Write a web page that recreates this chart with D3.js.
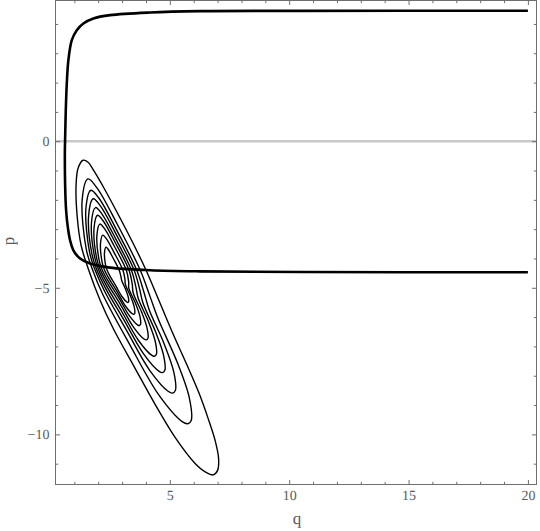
<!DOCTYPE html>
<html><head><meta charset="utf-8">
<script src="https://cdn.jsdelivr.net/npm/d3@7"></script>
<style>html,body{margin:0;padding:0;background:#fff;} svg{display:block;} text{-webkit-font-smoothing:antialiased;text-rendering:geometricPrecision;}</style>
</head><body><svg id="chart" width="540" height="531"></svg>
<script>
// ---- data ----
const qDomain = [0.21, 20.36];
const pDomain = [-11.71, 4.80];
const qMajor = [5, 10, 15, 20];
const qMinor = [1,2,3,4,6,7,8,9,11,12,13,14,16,17,18,19];
const pMajor = [-10, -5, 0];
const pMinor = [-11,-9,-8,-7,-6,-4,-3,-2,-1,1,2,3,4];
const zeroLine = [0];

const separatrixUpper = [[20,4.45],[10.455,4.446],[6.267,4.437],[4.173,4.392],[2.497,4.300],[1.797,4.188],[1.378,4.017],[1.102,3.788],[0.892,3.447],[0.750,2.765],[0.683,1.969],[0.641,1.058],[0.612,0.034]];
const separatrixLower = [[0.603,-0.30],[0.612,-1.444],[0.654,-2.355],[0.725,-2.925],[0.821,-3.379],[0.959,-3.720],[1.240,-4.003],[1.659,-4.174],[2.497,-4.311],[4.173,-4.400],[6.267,-4.440],[10.5,-4.462],[20,-4.472]];

const contour1 = [[1.366,-0.648],[1.156,-0.922],[1.072,-1.502],[1.114,-2.526],[1.282,-3.549],[1.575,-4.334],[2.078,-5.427],[2.623,-6.382],[3.544,-7.747],[4.382,-8.976],[5.220,-10.102],[6.058,-10.990],[6.519,-11.297],[6.812,-11.382],[7.000,-11.229],[7.042,-10.819],[6.896,-10.205],[6.602,-9.454],[6.225,-8.601],[5.723,-7.645],[5.178,-6.655],[4.592,-5.529],[4.005,-4.403],[3.460,-3.481],[2.832,-2.491],[2.245,-1.604],[1.827,-1.024],[1.575,-0.717]];
const contour2 = [[1.572,-1.287],[1.328,-1.995],[1.502,-3.695],[1.746,-4.347],[2.183,-5.212],[3.303,-6.912],[4.559,-8.678],[5.534,-9.574],[5.753,-9.638],[5.895,-9.523],[5.816,-8.755],[5.314,-7.552],[4.528,-6.093],[4.169,-5.293],[3.762,-4.403],[2.788,-2.817],[1.954,-1.598]];
const contour3 = [[1.697,-1.674],[1.484,-2.294],[1.636,-3.783],[1.849,-4.354],[2.246,-5.083],[3.158,-6.410],[4.163,-7.823],[4.943,-8.539],[5.119,-8.591],[5.232,-8.499],[5.169,-7.884],[4.767,-6.922],[4.138,-5.755],[3.915,-5.151],[3.615,-4.403],[2.762,-3.014],[2.032,-1.946]];
const contour4 = [[1.790,-1.963],[1.600,-2.517],[1.736,-3.849],[1.927,-4.359],[2.291,-4.992],[3.062,-6.076],[3.900,-7.253],[4.549,-7.850],[4.696,-7.893],[4.790,-7.816],[4.738,-7.304],[4.403,-6.502],[3.879,-5.530],[3.736,-5.050],[3.506,-4.403],[2.743,-3.161],[2.090,-2.207]];
const contour5 = [[1.887,-2.263],[1.720,-2.749],[1.840,-3.917],[2.007,-4.364],[2.331,-4.910],[2.985,-5.808],[3.688,-6.797],[4.234,-7.298],[4.357,-7.335],[4.436,-7.270],[4.392,-6.840],[4.111,-6.166],[3.671,-5.349],[3.575,-4.960],[3.392,-4.403],[2.723,-3.314],[2.150,-2.477]];
const contour6 = [[1.972,-2.526],[1.826,-2.952],[1.930,-3.976],[2.077,-4.369],[2.369,-4.833],[2.908,-5.540],[3.477,-6.341],[3.919,-6.747],[4.019,-6.776],[4.083,-6.724],[4.047,-6.376],[3.819,-5.830],[3.463,-5.169],[3.425,-4.876],[3.292,-4.403],[2.706,-3.447],[2.203,-2.713]];
const contour7 = [[2.070,-2.826],[1.947,-3.185],[2.034,-4.045],[2.158,-4.374],[2.406,-4.756],[2.840,-5.306],[3.293,-5.942],[3.643,-6.264],[3.722,-6.288],[3.773,-6.246],[3.745,-5.970],[3.564,-5.536],[3.281,-5.011],[3.274,-4.791],[3.178,-4.403],[2.685,-3.600],[2.263,-2.984]];
const contour8 = [[2.191,-3.202],[2.097,-3.475],[2.164,-4.130],[2.258,-4.381],[2.445,-4.677],[2.787,-5.122],[3.147,-5.629],[3.427,-5.885],[3.490,-5.904],[3.530,-5.871],[3.508,-5.650],[3.364,-5.306],[3.138,-4.887],[3.118,-4.704],[3.036,-4.403],[2.660,-3.791],[2.339,-3.322]];
const contour9 = [[2.325,-3.615],[2.263,-3.794],[2.307,-4.224],[2.369,-4.389],[2.488,-4.591],[2.731,-4.928],[2.994,-5.298],[3.198,-5.485],[3.244,-5.499],[3.274,-5.475],[3.257,-5.314],[3.152,-5.062],[2.988,-4.757],[2.949,-4.610],[2.879,-4.403],[2.633,-4.002],[2.422,-3.693]];
const contours = [contour1, contour2, contour3, contour4, contour5, contour6, contour7, contour8, contour9];

// ---- layout ----
const L = 55.5, R = 536.5, T = 0.5, B = 484.5;
const frameColor = "#6e6e6e", textColor = "#5a5a5a";
const fontFam = "'Liberation Serif','DejaVu Serif',serif";
const svg = d3.select("#chart");
const x = d3.scaleLinear().domain(qDomain).range([L, R]);
const y = d3.scaleLinear().domain(pDomain).range([B, T]);

svg.append("defs").append("clipPath").attr("id", "clip")
  .append("rect").attr("x", L).attr("y", T).attr("width", R - L).attr("height", B - T);

const plot = svg.append("g").attr("clip-path", "url(#clip)");

plot.selectAll("line.zero").data(zeroLine).enter().append("line")
  .attr("x1", L).attr("x2", R).attr("y1", d => y(d)).attr("y2", d => y(d))
  .attr("stroke", "#c8c8c8").attr("stroke-width", 2.5);

const cline = d3.line().x(d => x(d[0])).y(d => y(d[1])).curve(d3.curveCatmullRomClosed.alpha(0.5));
plot.selectAll("path.contour").data(contours).enter().append("path")
  .attr("class", "contour").attr("d", cline)
  .attr("fill", "none").attr("stroke", "#000").attr("stroke-width", 1.4);

const sline = d3.line().x(d => x(d[0])).y(d => y(d[1])).curve(d3.curveCatmullRom.alpha(0.5));
plot.append("path").datum(separatrixUpper.concat(separatrixLower)).attr("d", sline)
  .attr("fill", "none").attr("stroke", "#000").attr("stroke-width", 2.6);

function styleAxis(g) {
  g.select(".domain").remove();
  g.selectAll(".tick line").attr("stroke", frameColor);
  g.selectAll(".tick text").attr("fill", textColor)
    .style("font-family", fontFam).style("font-size", "14px");
}
const majLen = 4.5, minLen = 2.7;
svg.append("g").attr("transform", `translate(0,${B})`)
  .call(d3.axisBottom(x).tickValues(qMajor).tickSize(-majLen).tickPadding(6).tickFormat(d3.format("d"))).call(styleAxis);
svg.append("g").attr("transform", `translate(0,${B})`)
  .call(d3.axisBottom(x).tickValues(qMinor).tickSize(-minLen).tickFormat("")).call(styleAxis);
svg.append("g").attr("transform", `translate(0,${T})`)
  .call(d3.axisTop(x).tickValues(qMajor).tickSize(-majLen).tickFormat("")).call(styleAxis);
svg.append("g").attr("transform", `translate(0,${T})`)
  .call(d3.axisTop(x).tickValues(qMinor).tickSize(-minLen).tickFormat("")).call(styleAxis);
svg.append("g").attr("transform", `translate(${L},0)`)
  .call(d3.axisLeft(y).tickValues(pMajor).tickSize(-majLen).tickPadding(6).tickFormat(d3.format("d"))).call(styleAxis);
svg.append("g").attr("transform", `translate(${L},0)`)
  .call(d3.axisLeft(y).tickValues(pMinor).tickSize(-minLen).tickFormat("")).call(styleAxis);
svg.append("g").attr("transform", `translate(${R},0)`)
  .call(d3.axisRight(y).tickValues(pMajor).tickSize(-majLen).tickFormat("")).call(styleAxis);
svg.append("g").attr("transform", `translate(${R},0)`)
  .call(d3.axisRight(y).tickValues(pMinor).tickSize(-minLen).tickFormat("")).call(styleAxis);

svg.append("rect").attr("x", L).attr("y", T).attr("width", R - L).attr("height", B - T)
  .attr("fill", "none").attr("stroke", frameColor).attr("stroke-width", 1);

svg.append("text").attr("x", (L + R) / 2 + 1).attr("y", 524).attr("text-anchor", "middle")
  .attr("fill", textColor).style("font-family", fontFam).style("font-size", "17px").text("q");
svg.append("text").attr("transform", "translate(13.5,241) rotate(-90)").attr("text-anchor", "middle")
  .attr("fill", textColor).style("font-family", fontFam).style("font-size", "17px").text("p");
</script>
</body></html>
